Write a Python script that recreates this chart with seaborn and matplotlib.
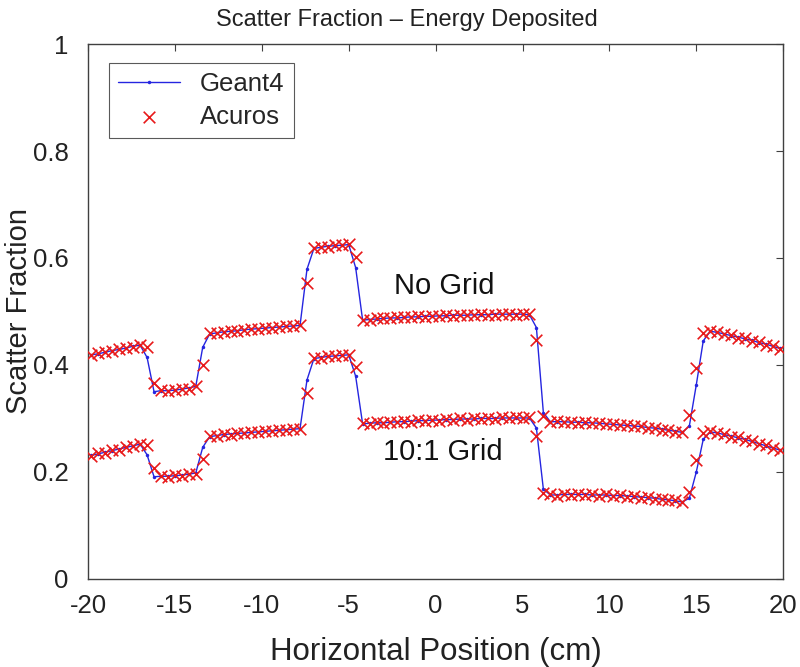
"""Scatter fraction of deposited energy vs horizontal position: Geant4 vs Acuros."""

import numpy as np
import pandas as pd
import matplotlib
matplotlib.use("Agg")
import matplotlib.pyplot as plt
import seaborn as sns

# horizontal positions (cm), 0.4 cm pitch
x_cm = np.arange(-19.8, 19.81, 0.4).round(1)

# ── No Grid ───────────────────────────────────────────────────────────────────
nogrid_geant4 = [
    0.419, 0.421, 0.424, 0.427, 0.429, 0.432, 0.435, 0.437, 0.414, 0.350,
    0.352, 0.352, 0.353, 0.355, 0.357, 0.360, 0.433, 0.458, 0.460, 0.462,
    0.463, 0.464, 0.466, 0.467, 0.468, 0.469, 0.470, 0.471, 0.472, 0.473,
    0.474, 0.579, 0.618, 0.620, 0.622, 0.623, 0.624, 0.625, 0.582, 0.484,
    0.485, 0.486, 0.487, 0.488, 0.488, 0.489, 0.490, 0.490, 0.491, 0.491,
    0.492, 0.492, 0.493, 0.493, 0.493, 0.494, 0.494, 0.494, 0.495, 0.495,
    0.495, 0.495, 0.495, 0.494, 0.470, 0.311, 0.294, 0.294, 0.294, 0.293,
    0.293, 0.292, 0.292, 0.291, 0.290, 0.289, 0.288, 0.287, 0.286, 0.285,
    0.283, 0.282, 0.280, 0.278, 0.276, 0.274, 0.286, 0.363, 0.445, 0.463,
    0.461, 0.458, 0.455, 0.452, 0.449, 0.446, 0.442, 0.439, 0.435, 0.431,
]
nogrid_acuros = [
    0.418, 0.422, 0.424, 0.426, 0.430, 0.432, 0.434, 0.438, 0.434, 0.366,
    0.353, 0.351, 0.354, 0.355, 0.356, 0.361, 0.400, 0.459, 0.460, 0.461,
    0.464, 0.464, 0.465, 0.468, 0.468, 0.470, 0.470, 0.471, 0.473, 0.473,
    0.475, 0.553, 0.619, 0.620, 0.621, 0.624, 0.624, 0.626, 0.602, 0.485,
    0.485, 0.487, 0.487, 0.487, 0.489, 0.489, 0.489, 0.491, 0.490, 0.492,
    0.491, 0.493, 0.492, 0.494, 0.493, 0.493, 0.495, 0.494, 0.494, 0.496,
    0.495, 0.494, 0.496, 0.495, 0.447, 0.304, 0.293, 0.295, 0.293, 0.294,
    0.292, 0.293, 0.291, 0.292, 0.289, 0.290, 0.287, 0.288, 0.285, 0.286,
    0.282, 0.283, 0.279, 0.279, 0.275, 0.275, 0.306, 0.394, 0.459, 0.464,
    0.462, 0.457, 0.456, 0.451, 0.450, 0.445, 0.443, 0.438, 0.436, 0.430,
]

# ── 10:1 Grid ─────────────────────────────────────────────────────────────────
grid_geant4 = [
    0.231, 0.234, 0.237, 0.240, 0.243, 0.246, 0.249, 0.252, 0.232, 0.191,
    0.192, 0.192, 0.193, 0.194, 0.196, 0.198, 0.246, 0.266, 0.268, 0.270,
    0.271, 0.272, 0.273, 0.274, 0.275, 0.276, 0.277, 0.278, 0.279, 0.280,
    0.281, 0.372, 0.412, 0.414, 0.416, 0.417, 0.418, 0.419, 0.379, 0.290,
    0.291, 0.292, 0.292, 0.293, 0.294, 0.294, 0.295, 0.296, 0.296, 0.297,
    0.297, 0.298, 0.298, 0.299, 0.299, 0.299, 0.300, 0.300, 0.300, 0.301,
    0.301, 0.301, 0.301, 0.301, 0.282, 0.168, 0.157, 0.157, 0.158, 0.158,
    0.158, 0.158, 0.157, 0.157, 0.157, 0.156, 0.156, 0.155, 0.154, 0.153,
    0.152, 0.151, 0.149, 0.148, 0.146, 0.144, 0.151, 0.200, 0.261, 0.275,
    0.273, 0.270, 0.267, 0.264, 0.261, 0.257, 0.253, 0.249, 0.245, 0.241,
]
grid_acuros = [
    0.230, 0.235, 0.236, 0.241, 0.242, 0.247, 0.248, 0.253, 0.250, 0.207,
    0.193, 0.191, 0.194, 0.193, 0.197, 0.197, 0.224, 0.267, 0.267, 0.271,
    0.270, 0.273, 0.272, 0.275, 0.274, 0.277, 0.276, 0.279, 0.278, 0.281,
    0.280, 0.348, 0.413, 0.413, 0.417, 0.416, 0.419, 0.418, 0.396, 0.291,
    0.290, 0.293, 0.291, 0.294, 0.293, 0.295, 0.294, 0.297, 0.295, 0.298,
    0.296, 0.299, 0.297, 0.300, 0.298, 0.300, 0.299, 0.301, 0.299, 0.302,
    0.300, 0.302, 0.300, 0.302, 0.267, 0.160, 0.158, 0.156, 0.159, 0.157,
    0.159, 0.157, 0.158, 0.156, 0.158, 0.155, 0.157, 0.154, 0.155, 0.152,
    0.153, 0.150, 0.150, 0.147, 0.147, 0.143, 0.163, 0.222, 0.272, 0.276,
    0.272, 0.271, 0.266, 0.265, 0.260, 0.258, 0.252, 0.250, 0.244, 0.242,
]

x_ticks = [-20, -15, -10, -5, 0, 5, 10, 15, 20]
y_ticks = [0, 0.2, 0.4, 0.6, 0.8, 1]
y_tick_labels = ["0", "0.2", "0.4", "0.6", "0.8", "1"]

sns.set_theme(style="white")
plt.rcParams["font.family"] = ["Liberation Sans", "DejaVu Sans"]
plt.rcParams["axes.unicode_minus"] = False

AX_COL = "#404040"

fig = plt.figure(figsize=(8, 6.67), dpi=100)
ax = fig.add_axes([0.11, 0.132, 0.869, 0.802])

for i, (g4, ac) in enumerate([(nogrid_geant4, nogrid_acuros),
                              (grid_geant4, grid_acuros)]):
    sns.lineplot(x=x_cm, y=g4, ax=ax, color="#2525E0", linewidth=1.0,
                 marker=".", markersize=5, markeredgewidth=0,
                 label="Geant4" if i == 0 else None, legend=False)
    sns.scatterplot(x=x_cm, y=ac, ax=ax, color="#E8191A", marker="x",
                    s=70, linewidth=1.2,
                    label="Acuros" if i == 0 else None, legend=False, zorder=3)

ax.text(-2.4, 0.548, "No Grid", fontsize=21, va="center", ha="left",
        color="#111111")
ax.text(-3.0, 0.237, "10:1 Grid", fontsize=21, va="center", ha="left",
        color="#111111")

ax.set_xlim(-20, 20)
ax.set_ylim(0, 1)
ax.set_xticks(x_ticks)
ax.set_xticklabels([str(t) for t in x_ticks])
ax.set_yticks(y_ticks)
ax.set_yticklabels(y_tick_labels)
ax.tick_params(direction="in", length=5, width=0.8, color=AX_COL,
               labelsize=18.5, labelcolor="#222222", top=True, right=True)
ax.tick_params(axis="x", pad=11)
ax.tick_params(axis="y", pad=14)
for sp in ax.spines.values():
    sp.set_color(AX_COL)
    sp.set_linewidth(1.0)

ax.set_xlabel("Horizontal Position (cm)", fontsize=22.5, color="#222222")
ax.xaxis.set_label_coords(0.5, -0.108)
ax.set_ylabel("Scatter Fraction", fontsize=21, color="#222222")
ax.yaxis.set_label_coords(-0.079, 0.5)
ax.set_title("Scatter Fraction \u2013 Energy Deposited", fontsize=17,
             color="#222222", x=0.458, pad=13)

leg = ax.legend(loc="upper left", bbox_to_anchor=(0.03, 0.965), fontsize=18.5,
                frameon=True, fancybox=False, edgecolor="#303030",
                handlelength=2.4, handletextpad=0.8, borderpad=0.35,
                labelspacing=0.35, borderaxespad=0)
leg.get_frame().set_linewidth(0.8)

fig.savefig("out.png", dpi=100)
